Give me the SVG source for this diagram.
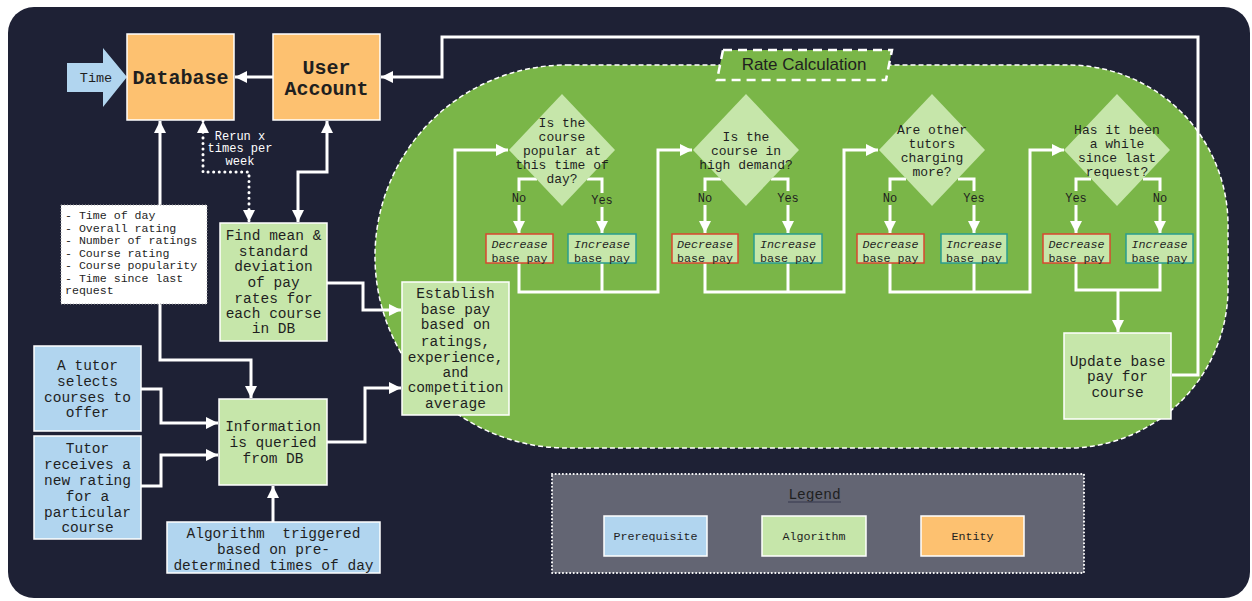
<svg xmlns="http://www.w3.org/2000/svg" width="1252" height="601" viewBox="0 0 1252 601">
<defs>
<marker id="ah" markerUnits="userSpaceOnUse" markerWidth="14" markerHeight="12" refX="12" refY="6" orient="auto-start-reverse">
<path d="M0,0 L12,6 L0,12 z" fill="#ffffff"/>
</marker>
<style>
.t{font-family:"Liberation Mono","DejaVu Sans Mono",monospace;fill:#1f1f1f;text-anchor:middle}
.s145{font-size:14.5px}
.s13{font-size:13px}
.s115{font-size:11.7px}
.ent{fill:#fdc170;stroke:#ffffff;stroke-width:1.5}
.alg{fill:#c6e6aa;stroke:#ffffff;stroke-width:1.5}
.pre{fill:#b1d5ef;stroke:#ffffff;stroke-width:1.5}
.dia{fill:#c6e6aa}
.dec{fill:#c6e6aa;stroke:#d9472f;stroke-width:1.5}
.inc{fill:#c6e6aa;stroke:#2a9d8f;stroke-width:1.5}
.c{fill:none;stroke:#ffffff;stroke-width:3}
.ce{fill:none;stroke:#ffffff;stroke-width:3;marker-end:url(#ah)}
.cb{fill:none;stroke:#ffffff;stroke-width:3;marker-start:url(#ah);marker-end:url(#ah)}
.lb{fill:#7ab648}
</style>
</defs>
<rect x="8" y="7" width="1242" height="591" rx="26" fill="#1e2135"/>
<g id="rate-calc">
<path d="M566.5,65 H1068 A160,160 0 0 1 1228,225 V288 A160,160 0 0 1 1068,448 H566.5 A191.5,191.5 0 0 1 375,256.5 A191.5,191.5 0 0 1 566.5,65 Z" fill="#7ab648" stroke="#ffffff" stroke-width="1.5" stroke-dasharray="5 3"/>
<polygon points="723,50 892,50 886,80 717,80" fill="#7ab648" stroke="#ffffff" stroke-width="2.5" stroke-dasharray="9 6"/>
<text x="804" y="70" style="font-family:'Liberation Sans',Arial,sans-serif;font-size:17px;fill:#1f1f1f;text-anchor:middle">Rate Calculation</text>
</g>
<g id="connectors">
<path class="ce" d="M273,77 H235"/>
<path class="ce" d="M1172,375 H1198 V37 H442 V77 H381"/>
<path class="cb" d="M160,121 V360 H251 V398"/>
<path class="cb" d="M203,121 V172 H249 V222" style="stroke-dasharray:0.1 5.5;stroke-linecap:round"/>
<path class="cb" d="M327,121 V172 H298 V222"/>
<path class="ce" d="M327,283 H363 V310 H401"/>
<path class="ce" d="M327,442 H365 V388 H401"/>
<path class="ce" d="M141,389 H161 V423 H218"/>
<path class="ce" d="M141,486 H161 V455 H218"/>
<path class="ce" d="M273,522 V486"/>
<path class="ce" d="M455,282 V150 H508"/>
<path class="ce" d="M537,179 H519 V233"/>
<path class="ce" d="M587,179 H602 V233"/>
<path class="ce" d="M519,263 V292 H658 V150 H692"/>
<path class="c" d="M602,263 V292"/>
<path class="ce" d="M721,179 H705 V233"/>
<path class="ce" d="M771,179 H788 V233"/>
<path class="ce" d="M705,263 V292 H844 V150 H878"/>
<path class="c" d="M788,263 V292"/>
<path class="ce" d="M906,179 H890 V233"/>
<path class="ce" d="M958,179 H974 V233"/>
<path class="ce" d="M890,263 V292 H1030 V150 H1064"/>
<path class="c" d="M974,263 V292"/>
<path class="ce" d="M1091,179 H1076 V233"/>
<path class="ce" d="M1143,179 H1160 V233"/>
<path class="c" d="M1076,263 V290 H1160 V263"/>
<path class="ce" d="M1118,290 V332"/>
<rect class="lb" x="509" y="191" width="20" height="14"/>
<text class="t" x="519" y="202" style="font-size:12px">No</text>
<rect class="lb" x="590" y="193" width="24" height="14"/>
<text class="t" x="602" y="204" style="font-size:12px">Yes</text>
<rect class="lb" x="695" y="191" width="20" height="14"/>
<text class="t" x="705" y="202" style="font-size:12px">No</text>
<rect class="lb" x="776" y="191" width="24" height="14"/>
<text class="t" x="788" y="202" style="font-size:12px">Yes</text>
<rect class="lb" x="880" y="191" width="20" height="14"/>
<text class="t" x="890" y="202" style="font-size:12px">No</text>
<rect class="lb" x="962" y="191" width="24" height="14"/>
<text class="t" x="974" y="202" style="font-size:12px">Yes</text>
<rect class="lb" x="1064" y="191" width="24" height="14"/>
<text class="t" x="1076" y="202" style="font-size:12px">Yes</text>
<rect class="lb" x="1150" y="191" width="20" height="14"/>
<text class="t" x="1160" y="202" style="font-size:12px">No</text>
<text class="t" x="240" y="140" style="font-size:12px;fill:#ffffff">Rerun x</text>
<text class="t" x="240" y="152" style="font-size:12px;fill:#ffffff">times per</text>
<text class="t" x="240" y="165" style="font-size:12px;fill:#ffffff">week</text>
</g>
<g id="time">
<polygon points="67,63 103,63 103,48 127,77 103,107 103,92 67,92" fill="#b1d5ef"/>
<text class="t" x="96" y="82" style="font-size:13.5px">Time</text>
</g>
<g id="database">
<rect class="ent" x="127" y="34" width="107" height="86"/>
<text class="t" x="180.5" y="84" style="font-size:20px;font-weight:bold">Database</text>
</g>
<g id="user-account">
<rect class="ent" x="273" y="34" width="107" height="86"/>
<text class="t" x="326.5" y="74" style="font-size:20px;font-weight:bold">User</text>
<text class="t" x="326.5" y="95" style="font-size:20px;font-weight:bold">Account</text>
</g>
<g id="notes">
<rect x="61" y="205" width="146" height="99" fill="#ffffff" stroke="#aaaaaa" stroke-width="1" stroke-dasharray="1 2"/>
<g style="font-family:'Liberation Mono','DejaVu Sans Mono',monospace;font-size:11.6px;fill:#1f1f1f">
<text x="65" y="219">- Time of day</text>
<text x="65" y="232">- Overall rating</text>
<text x="65" y="244">- Number of ratings</text>
<text x="65" y="257">- Course rating</text>
<text x="65" y="269">- Course popularity</text>
<text x="65" y="282">- Time since last</text>
<text x="65" y="294">request</text>
</g>
</g>
<g id="find-mean">
<rect class="alg" x="220" y="223" width="107" height="118"/>
<text class="t s145" x="273.5" y="240">Find mean &amp;</text>
<text class="t s145" x="273.5" y="256">standard</text>
<text class="t s145" x="273.5" y="271">deviation</text>
<text class="t s145" x="273.5" y="287">of pay</text>
<text class="t s145" x="273.5" y="303">rates for</text>
<text class="t s145" x="273.5" y="318">each course</text>
<text class="t s145" x="273.5" y="333">in DB</text>
</g>
<g id="establish">
<rect class="alg" x="402" y="282" width="107" height="133"/>
<text class="t s145" x="455.5" y="298">Establish</text>
<text class="t s145" x="455.5" y="314">base pay</text>
<text class="t s145" x="455.5" y="329">based on</text>
<text class="t s145" x="455.5" y="346">ratings,</text>
<text class="t s145" x="455.5" y="362">experience,</text>
<text class="t s145" x="455.5" y="377">and</text>
<text class="t s145" x="455.5" y="392">competition</text>
<text class="t s145" x="455.5" y="408">average</text>
</g>
<g id="information">
<rect class="alg" x="219" y="399" width="108" height="86"/>
<text class="t s145" x="273" y="431">Information</text>
<text class="t s145" x="273" y="447">is queried</text>
<text class="t s145" x="273" y="463">from DB</text>
</g>
<g id="tutor-selects">
<rect class="pre" x="34" y="346" width="107" height="85"/>
<text class="t s145" x="87.5" y="370">A tutor</text>
<text class="t s145" x="87.5" y="386">selects</text>
<text class="t s145" x="87.5" y="402">courses to</text>
<text class="t s145" x="87.5" y="417">offer</text>
</g>
<g id="tutor-receives">
<rect class="pre" x="34" y="436" width="107" height="103"/>
<text class="t s145" x="87.5" y="453">Tutor</text>
<text class="t s145" x="87.5" y="469">receives a</text>
<text class="t s145" x="87.5" y="485">new rating</text>
<text class="t s145" x="87.5" y="501">for a</text>
<text class="t s145" x="87.5" y="517">particular</text>
<text class="t s145" x="87.5" y="532">course</text>
</g>
<g id="algorithm-triggered">
<rect class="pre" x="167" y="522" width="213" height="51"/>
<text class="t s145" x="273.5" y="538" style="white-space:pre">Algorithm  triggered</text>
<text class="t s145" x="273.5" y="554">based on pre-</text>
<text class="t s145" x="273.5" y="570">determined times of day</text>
</g>
<g id="q1">
<polygon class="dia" points="562,94 615,150 562,206 509,150"/>
<text class="t s13" x="562" y="126.5">Is the</text>
<text class="t s13" x="562" y="140.5">course</text>
<text class="t s13" x="562" y="154.5">popular at</text>
<text class="t s13" x="562" y="168.5">this time of</text>
<text class="t s13" x="562" y="182.5">day?</text>
</g>
<g id="q2">
<polygon class="dia" points="746,94 799,150 746,206 693,150"/>
<text class="t s13" x="746" y="141">Is the</text>
<text class="t s13" x="746" y="154.5">course in</text>
<text class="t s13" x="746" y="168.5">high demand?</text>
</g>
<g id="q3">
<polygon class="dia" points="932,94 985,150 932,206 879,150"/>
<text class="t s13" x="932" y="133.5">Are other</text>
<text class="t s13" x="932" y="147.5">tutors</text>
<text class="t s13" x="932" y="161.5">charging</text>
<text class="t s13" x="932" y="175.5">more?</text>
</g>
<g id="q4">
<polygon class="dia" points="1117,94 1170,150 1117,206 1064,150"/>
<text class="t s13" x="1117" y="133.5">Has it been</text>
<text class="t s13" x="1117" y="147.5">a while</text>
<text class="t s13" x="1117" y="161.5">since last</text>
<text class="t s13" x="1117" y="175.5">request?</text>
</g>
<g id="dec1"><rect class="dec" x="486" y="234" width="67" height="29"/><text class="t s115" x="519.5" y="248" font-style="italic">Decrease</text><text class="t s115" x="519.5" y="262">base pay</text></g>
<g id="inc1"><rect class="inc" x="568" y="234" width="68" height="29"/><text class="t s115" x="602" y="248" font-style="italic">Increase</text><text class="t s115" x="602" y="262">base pay</text></g>
<g id="dec2"><rect class="dec" x="672" y="234" width="66" height="29"/><text class="t s115" x="705" y="248" font-style="italic">Decrease</text><text class="t s115" x="705" y="262">base pay</text></g>
<g id="inc2"><rect class="inc" x="754" y="234" width="68" height="29"/><text class="t s115" x="788" y="248" font-style="italic">Increase</text><text class="t s115" x="788" y="262">base pay</text></g>
<g id="dec3"><rect class="dec" x="857" y="234" width="67" height="29"/><text class="t s115" x="890.5" y="248" font-style="italic">Decrease</text><text class="t s115" x="890.5" y="262">base pay</text></g>
<g id="inc3"><rect class="inc" x="941" y="234" width="66" height="29"/><text class="t s115" x="974" y="248" font-style="italic">Increase</text><text class="t s115" x="974" y="262">base pay</text></g>
<g id="dec4"><rect class="dec" x="1043" y="234" width="67" height="29"/><text class="t s115" x="1076.5" y="248" font-style="italic">Decrease</text><text class="t s115" x="1076.5" y="262">base pay</text></g>
<g id="inc4"><rect class="inc" x="1126" y="234" width="67" height="29"/><text class="t s115" x="1159.5" y="248" font-style="italic">Increase</text><text class="t s115" x="1159.5" y="262">base pay</text></g>
<g id="update">
<rect class="alg" x="1064" y="333" width="107" height="86"/>
<text class="t s145" x="1117.5" y="366">Update base</text>
<text class="t s145" x="1117.5" y="381">pay for</text>
<text class="t s145" x="1117.5" y="397">course</text>
</g>
<g id="legend">
<rect x="552" y="474" width="532" height="99" fill="#636573" stroke="#ffffff" stroke-width="2" stroke-dasharray="0.1 3.5" stroke-linecap="round"/>
<text class="t s145" x="814.5" y="499">Legend</text>
<line x1="788" y1="502" x2="841" y2="502" stroke="#44475a" stroke-width="1.5"/>
<rect class="pre" x="604" y="516" width="103" height="40"/>
<text class="t s115" x="655.5" y="540">Prerequisite</text>
<rect class="alg" x="762" y="516" width="104" height="40"/>
<text class="t s115" x="814" y="540">Algorithm</text>
<rect class="ent" x="921" y="516" width="103" height="40"/>
<text class="t s115" x="972.5" y="540">Entity</text>
</g>
</svg>
